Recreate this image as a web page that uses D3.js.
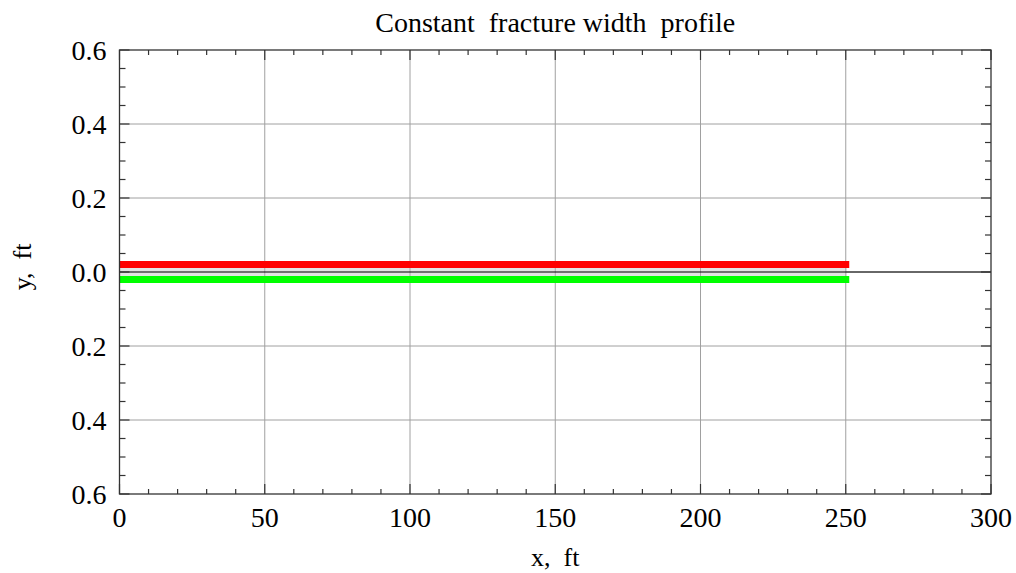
<!DOCTYPE html>
<html>
<head>
<meta charset="utf-8">
<script src="https://cdn.jsdelivr.net/npm/d3@7"></script>
<style>
  body { margin: 0; background: #fff; }
  text { font-family: "Liberation Serif", "DejaVu Serif", serif; fill: #000; white-space: pre; }
</style>
</head>
<body>
<div id="chart"></div>
<script>
// Fracture profile: x from 0 to 250 ft, half width 0.02 ft
const profileX = [0, 250];
const upperWall = [0.02, 0.02];
const lowerWall = [-0.02, -0.02];

const xTicks = [0, 50, 100, 150, 200, 250, 300];
const yTicks = [-0.6, -0.4, -0.2, 0.0, 0.2, 0.4, 0.6];
const yTickLabels = ['0.6', '0.4', '0.2', '0.0', '0.2', '0.4', '0.6'];

const W = 1016, H = 573;
const margin = { top: 50, right: 25, bottom: 79, left: 119.5 };
const width = W - margin.left - margin.right;
const height = H - margin.top - margin.bottom;

const svg = d3.select('#chart').append('svg')
    .attr('width', W)
    .attr('height', H);

const g = svg.append('g')
    .attr('transform', `translate(${margin.left},${margin.top})`);

const x = d3.scaleLinear().domain([0, 300]).range([0, width]);
const y = d3.scaleLinear().domain([-0.6, 0.6]).range([height, 0]);

svg.append('defs').append('clipPath').attr('id', 'clip')
    .append('rect').attr('width', width).attr('height', height);

// Grid lines
g.append('g').selectAll('line')
    .data(xTicks.slice(1, -1))
    .join('line')
    .attr('x1', d => x(d)).attr('x2', d => x(d))
    .attr('y1', 0).attr('y2', height)
    .attr('stroke', '#a0a0a0').attr('stroke-width', 1);

g.append('g').selectAll('line')
    .data(yTicks.slice(1, -1))
    .join('line')
    .attr('x1', 0).attr('x2', width)
    .attr('y1', d => y(d)).attr('y2', d => y(d))
    .attr('stroke', '#a0a0a0').attr('stroke-width', 1);

const plot = g.append('g').attr('clip-path', 'url(#clip)');

// Fill between the walls
const pts = profileX.map((d, i) => ({ x: d, hi: upperWall[i], lo: lowerWall[i] }));
plot.append('path')
    .datum(pts)
    .attr('fill', '#e3e3e3')
    .attr('d', d3.area().x(d => x(d.x)).y0(d => y(d.lo)).y1(d => y(d.hi)));

// Gridline over fill (visible through band)
plot.append('g').selectAll('line')
    .data(xTicks.slice(1, -1))
    .join('line')
    .attr('x1', d => x(d)).attr('x2', d => x(d))
    .attr('y1', y(0.02)).attr('y2', y(-0.02))
    .attr('stroke', '#a8a8a8').attr('stroke-width', 1);

// Zero axis
plot.append('line')
    .attr('x1', 0).attr('x2', width)
    .attr('y1', y(0)).attr('y2', y(0))
    .attr('stroke', '#000').attr('stroke-width', 1.2);

const line = d3.line().x(d => x(d[0])).y(d => y(d[1]));
plot.append('path')
    .datum(profileX.map((d, i) => [d, upperWall[i]]))
    .attr('fill', 'none').attr('stroke', '#ff0000')
    .attr('stroke-width', 7).attr('stroke-linecap', 'square')
    .attr('d', line);
plot.append('path')
    .datum(profileX.map((d, i) => [d, lowerWall[i]]))
    .attr('fill', 'none').attr('stroke', '#00ff00')
    .attr('stroke-width', 7).attr('stroke-linecap', 'square')
    .attr('d', line);

// Frame
g.append('rect')
    .attr('width', width).attr('height', height)
    .attr('fill', 'none').attr('stroke', '#333').attr('stroke-width', 1.3);

// Ticks on all four sides, inward
const xMinor = d3.range(0, 301, 10);
const yMinor = d3.range(-60, 61, 5).map(v => v / 100);
const isMajX = d => d % 50 === 0;
const isMajY = d => Math.abs(Math.round(d * 100) % 20) === 0;
const tickG = g.append('g').attr('stroke', '#333').attr('stroke-width', 1.2);
xMinor.forEach(d => {
    const len = isMajX(d) ? 10 : 5;
    tickG.append('line').attr('x1', x(d)).attr('x2', x(d)).attr('y1', height).attr('y2', height - len);
    tickG.append('line').attr('x1', x(d)).attr('x2', x(d)).attr('y1', 0).attr('y2', len);
});
yMinor.forEach(d => {
    const len = isMajY(d) ? 10 : 6;
    tickG.append('line').attr('x1', 0).attr('x2', len).attr('y1', y(d)).attr('y2', y(d));
    tickG.append('line').attr('x1', width).attr('x2', width - len).attr('y1', y(d)).attr('y2', y(d));
});

// Tick labels
g.append('g').selectAll('text')
    .data(xTicks)
    .join('text')
    .attr('x', d => x(d))
    .attr('y', height + 33)
    .attr('text-anchor', 'middle')
    .attr('font-size', 28)
    .text(d => d);

g.append('g').selectAll('text')
    .data(yTicks)
    .join('text')
    .attr('x', -13)
    .attr('y', d => y(d) + 10)
    .attr('text-anchor', 'end')
    .attr('font-size', 28)
    .text((d, i) => yTickLabels[i]);

// Title and axis labels
svg.append('text')
    .attr('x', margin.left + width / 2)
    .attr('y', 32)
    .attr('text-anchor', 'middle')
    .attr('font-size', 28)
    .text('Constant  fracture width  profile');

svg.append('text')
    .attr('x', margin.left + width / 2)
    .attr('y', 566)
    .attr('text-anchor', 'middle')
    .attr('font-size', 26)
    .text('x,  ft');

svg.append('text')
    .attr('transform', `translate(31,${margin.top + height / 2 - 5}) rotate(-90)`)
    .attr('text-anchor', 'middle')
    .attr('font-size', 26)
    .text('y,  ft');
</script>
</body>
</html>
